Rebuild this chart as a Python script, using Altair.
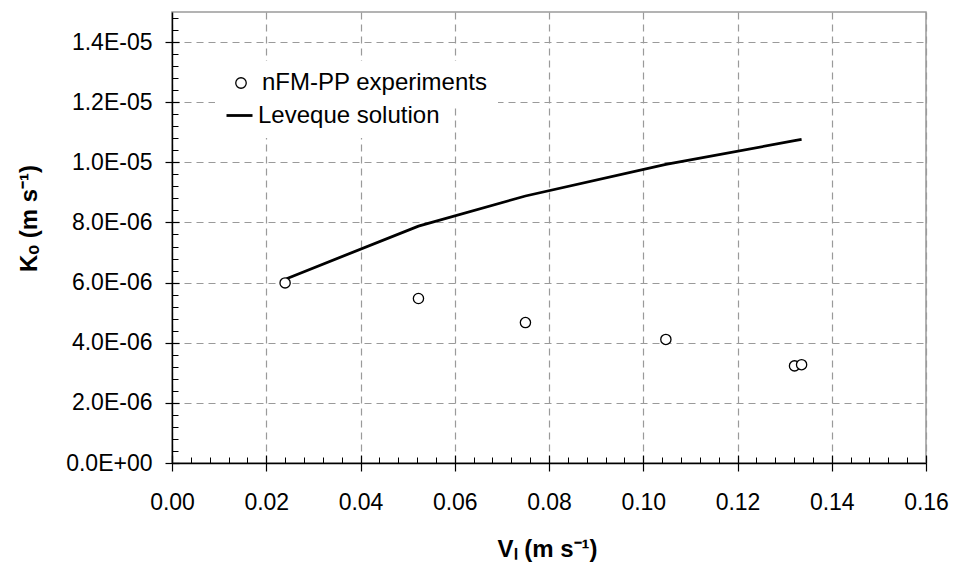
import altair as alt
import pandas as pd

# ---- data ----
exp_v = [0.0240, 0.0523, 0.0750, 0.1048, 0.1321, 0.1336]
exp_k = [5.99e-6, 5.47e-6, 4.67e-6, 4.11e-6, 3.23e-6, 3.27e-6]
lev_v = [0.0243, 0.0523, 0.0750, 0.1048, 0.1321, 0.1336]
lev_k = [6.13e-6, 7.88e-6, 8.88e-6, 9.93e-6, 1.072e-5, 1.076e-5]

exp_name = "nFM-PP experiments"
lev_name = "Leveque solution"

x_ticks = [0.00, 0.02, 0.04, 0.06, 0.08, 0.10, 0.12, 0.14, 0.16]
x_labels = ["0.00", "0.02", "0.04", "0.06", "0.08", "0.10", "0.12", "0.14", "0.16"]
y_ticks = [0.0, 2e-6, 4e-6, 6e-6, 8e-6, 1.0e-5, 1.2e-5, 1.4e-5]
y_labels = ["0.0E+00", "2.0E-06", "4.0E-06", "6.0E-06", "8.0E-06",
            "1.0E-05", "1.2E-05", "1.4E-05"]

x_minor = [i * 0.004 for i in range(41) if i % 5 != 0]
y_minor = [i * 4e-7 for i in range(38) if i % 5 != 0]

exp_df = pd.DataFrame({"v": exp_v, "k": exp_k, "exp_series": [exp_name] * len(exp_v)})
lev_df = pd.DataFrame({"v": lev_v, "k": lev_k, "lev_series": [lev_name] * len(lev_v)})

FONT = "Liberation Sans"
FS = 23
LFS = 24
TFS = 24
W, H = 754, 451

xscale = alt.Scale(domain=[0, 0.16], nice=False, zero=False)
yscale = alt.Scale(domain=[0, 1.5e-5], nice=False, zero=False)

x_expr = "[" + ",".join("'%s'" % s for s in x_labels) + "][round(datum.value/0.02)]"
y_expr = "[" + ",".join("'%s'" % s for s in y_labels) + "][round(datum.value/2e-6)]"

main_x = alt.Axis(
    orient="bottom", values=x_ticks, labelExpr=x_expr,
    tickSize=8, tickColor="black", tickWidth=1.2,
    domainColor="black", domainWidth=1.4,
    labelFont=FONT, labelFontSize=FS, labelColor="black",
    labelBaseline="alphabetic", labelPadding=38, labelFlush=False,
    labelOverlap=False, labelBound=False,
    grid=True, gridColor="#9a9a9a", gridDash=[7, 5], gridWidth=1.2,
    title="Vₗ (m s⁻¹)", titleFont=FONT, titleFontSize=TFS, titleFontWeight="bold",
    titleColor="black", titleX=375, titleY=93, titleAlign="center",
    titleBaseline="alphabetic", titleAnchor="middle",
)
main_y = alt.Axis(
    orient="left", values=y_ticks, labelExpr=y_expr,
    tickSize=7, tickColor="black", tickWidth=1.2,
    domainColor="black", domainWidth=1.4,
    labelFont=FONT, labelFontSize=FS, labelColor="black",
    labelPadding=13, labelFlush=False, labelOverlap=False, labelBound=False,
    grid=True, gridColor="#9a9a9a", gridDash=[7, 5], gridWidth=1.2,
    title="Kₒ (m s⁻¹)", titleFont=FONT, titleFontSize=TFS, titleFontWeight="bold",
    titleColor="black", titleAngle=270, titleX=-143, titleY=206,
    titleAlign="center", titleBaseline="middle", titleAnchor="middle",
)
inner_x = alt.Axis(orient="bottom", values=x_ticks, offset=-8, tickSize=8,
                   tickColor="black", tickWidth=1.2, labels=False, domain=False,
                   grid=False, title=None)
inner_y = alt.Axis(orient="left", values=y_ticks, offset=-7, tickSize=7,
                   tickColor="black", tickWidth=1.2, labels=False, domain=False,
                   grid=False, title=None)
minor_x = alt.Axis(orient="bottom", values=x_minor, offset=-6, tickSize=6,
                   tickColor="black", tickWidth=1, labels=False, domain=False,
                   grid=False, title=None)
minor_y = alt.Axis(orient="left", values=y_minor, offset=-6, tickSize=6,
                   tickColor="black", tickWidth=1, labels=False, domain=False,
                   grid=False, title=None)

line = alt.Chart(lev_df).mark_line(strokeWidth=2.8, color="black").encode(
    x=alt.X("v:Q", scale=xscale, axis=main_x),
    y=alt.Y("k:Q", scale=yscale, axis=main_y),
    color=alt.Color(
        "lev_series:N",
        scale=alt.Scale(domain=[lev_name], range=["black"]),
        legend=alt.Legend(
            orient="none", legendX=43, legendY=79, title=None,
            fillColor="white", padding=10,
            symbolType="stroke", symbolSize=676, symbolStrokeWidth=2.8,
            symbolStrokeColor="black", symbolOpacity=1, labelOffset=4,
            labelFont=FONT, labelFontSize=LFS, labelColor="black", labelLimit=500,
        ),
    ),
)

pts = alt.Chart(exp_df).mark_point(
    shape="circle", strokeWidth=1.3, size=105, opacity=1,
    fill="white", fillOpacity=1,
).encode(
    x=alt.X("v:Q", scale=xscale, axis=inner_x),
    y=alt.Y("k:Q", scale=yscale, axis=inner_y),
    stroke=alt.Stroke(
        "exp_series:N",
        scale=alt.Scale(domain=[exp_name], range=["black"]),
        legend=alt.Legend(
            orient="none", legendX=47, legendY=49, title=None,
            fillColor="white", padding=10, symbolType="circle",
            symbolSize=110, symbolStrokeWidth=1.3, symbolFillColor="white",
            symbolOpacity=1, labelOffset=9,
            labelFont=FONT, labelFontSize=LFS, labelColor="black", labelLimit=500,
        ),
    ),
)

minor = alt.Chart(exp_df).mark_text(text="").encode(
    x=alt.X("v:Q", scale=xscale, axis=minor_x),
    y=alt.Y("k:Q", scale=yscale, axis=minor_y),
)

chart = (
    alt.layer(minor, line, pts)
    .resolve_axis(x="independent", y="independent")
    .properties(
        width=W, height=H,
        padding={"left": 172, "top": 12, "right": 28, "bottom": 99},
        autosize="none",
        background="white",
    )
    .configure_view(stroke="#9a9a9a", strokeWidth=1.5)
)

chart.save("out.html", embed_options={"renderer": "svg", "actions": False})
